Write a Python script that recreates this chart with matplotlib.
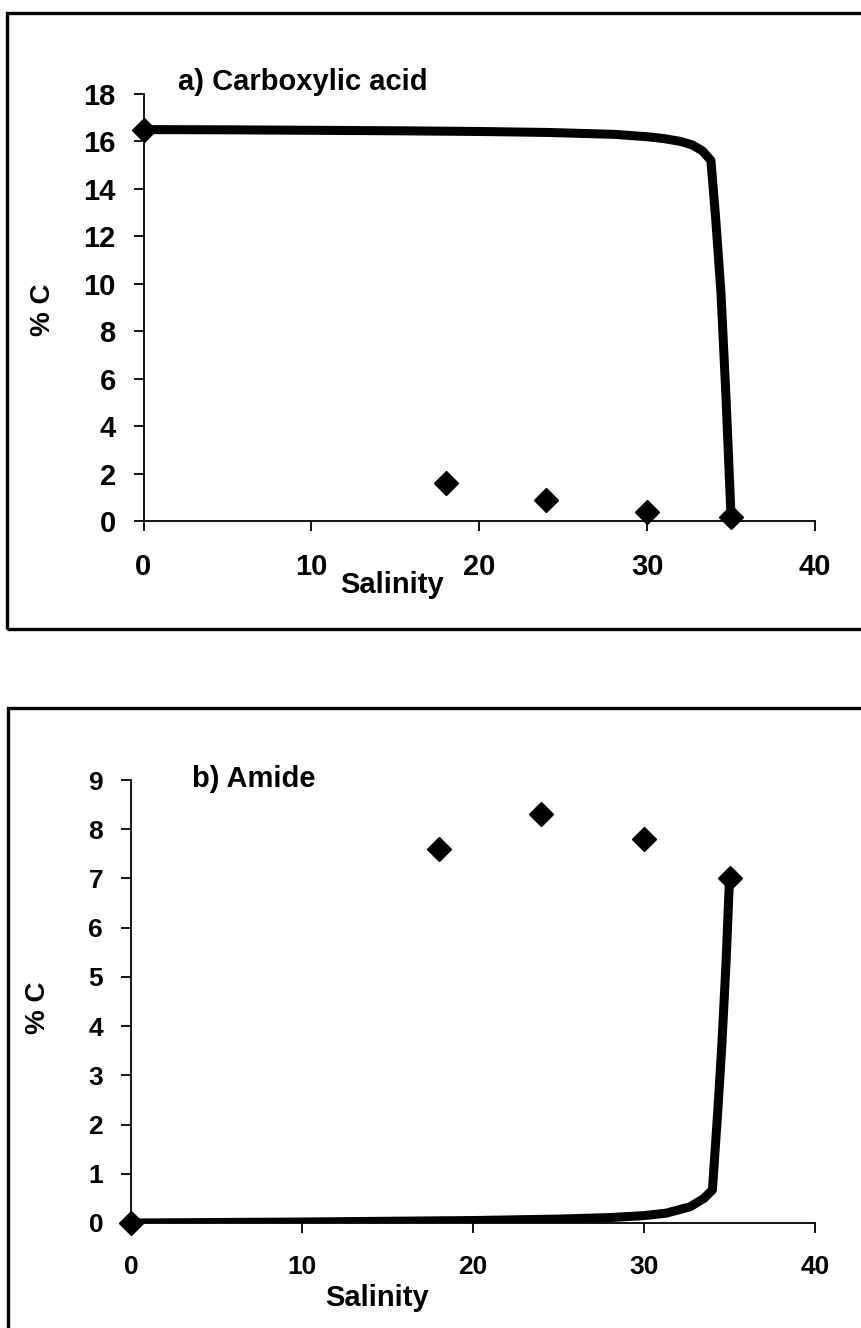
import matplotlib
matplotlib.use("Agg")
import matplotlib.pyplot as plt
from matplotlib.patches import Rectangle

plt.rcParams['font.family'] = ['Liberation Sans', 'DejaVu Sans']
plt.rcParams['font.weight'] = 'bold'

# ---------------- data ----------------
# Panel a: Carboxylic acid
a_obs_salinity = [0, 18, 24, 30, 35]
a_obs_pctC = [16.5, 1.6, 0.9, 0.4, 0.15]
a_line_salinity = [0, 5, 10, 15, 20, 24, 28, 30, 31, 32, 32.7, 33.3, 33.8, 34.1, 34.4, 34.7, 35]
a_line_pctC = [16.5, 16.49, 16.47, 16.45, 16.42, 16.38, 16.3, 16.2, 16.12, 16.0, 15.85, 15.6, 15.2, 12.6, 9.6, 5.2, 0.15]

# Panel b: Amide
b_obs_salinity = [0, 18, 24, 30, 35]
b_obs_pctC = [0.0, 7.6, 8.3, 7.8, 7.0]
b_line_salinity = [0, 10, 20, 25, 28, 30, 31.3, 32.7, 33.5, 34.0, 34.3, 34.55, 34.8, 35]
b_line_pctC = [0.0, 0.02, 0.05, 0.08, 0.11, 0.15, 0.2, 0.33, 0.5, 0.67, 2.2, 3.6, 5.3, 7.0]

a_yticks = [0, 2, 4, 6, 8, 10, 12, 14, 16, 18]
b_yticks = [0, 1, 2, 3, 4, 5, 6, 7, 8, 9]
xticks = [0, 10, 20, 30, 40]

W, H = 861, 1328
fig = plt.figure(figsize=(W / 100, H / 100), dpi=100)
fig.patch.set_facecolor('white')


def fx(px):
    return px / W


def fy(py):
    return 1 - py / H


# outer frames
fig.patches.append(Rectangle((fx(7), fy(629)), fx(880), (629 - 13) / H,
                             transform=fig.transFigure, fill=False,
                             edgecolor='black', linewidth=2.4))
fig.patches.append(Rectangle((fx(8), -0.02), fx(880), 1 - 708 / H + 0.02,
                             transform=fig.transFigure, fill=False,
                             edgecolor='black', linewidth=2.4))


def style(ax, ylim, yticks, tick_fs_y, tick_fs_x, ypad, xpad, ticklen):
    ax.set_xlim(0, 40)
    ax.set_ylim(*ylim)
    ax.set_xticks(xticks)
    ax.set_yticks(yticks)
    for s in ['top', 'right']:
        ax.spines[s].set_visible(False)
    for s in ['left', 'bottom']:
        ax.spines[s].set_linewidth(1.3)
    ax.tick_params(axis='y', direction='out', length=ticklen, width=1.3,
                   labelsize=tick_fs_y, pad=ypad)
    ax.tick_params(axis='x', direction='out', length=ticklen, width=1.3,
                   labelsize=tick_fs_x, pad=xpad)
    for lab in ax.get_xticklabels() + ax.get_yticklabels():
        lab.set_fontweight('bold')
    ax.set_facecolor('none')


# ---------------- panel a ----------------
ax1 = fig.add_axes([fx(143.5), fy(521), (815 - 143.5) / W, (521 - 94) / H])
ax1.plot(a_line_salinity, a_line_pctC, color='black', linewidth=6.5,
         solid_capstyle='round', solid_joinstyle='round', zorder=2)
ax1.plot(a_obs_salinity, a_obs_pctC, linestyle='none', marker='D', markersize=12,
         color='black', zorder=3, clip_on=False)
style(ax1, (0, 18), a_yticks, 21, 21, 13, 16, 7)
ax1.set_xlabel('Salinity', fontsize=21, fontweight='bold')
ax1.xaxis.set_label_coords(0.370, -0.150)
ax1.xaxis.label.set_verticalalignment('center')
ax1.set_ylabel('% C', fontsize=20, fontweight='bold')
ax1.yaxis.set_label_coords(-0.150, 0.494)
ax1.yaxis.label.set_verticalalignment('center')
fig.text(fx(178), fy(90), 'a) Carboxylic acid', fontsize=21, fontweight='bold',
         ha='left', va='baseline')

# ---------------- panel b ----------------
ax2 = fig.add_axes([fx(131), fy(1223), (815 - 131) / W, (1223 - 780) / H])
ax2.plot(b_line_salinity, b_line_pctC, color='black', linewidth=6.5,
         solid_capstyle='round', solid_joinstyle='round', zorder=2)
ax2.plot(b_obs_salinity, b_obs_pctC, linestyle='none', marker='D', markersize=12,
         color='black', zorder=3, clip_on=False)
style(ax2, (0, 9), b_yticks, 19, 19, 13, 16, 7)
ax2.set_xlabel('Salinity', fontsize=21, fontweight='bold')
ax2.xaxis.set_label_coords(0.360, -0.169)
ax2.xaxis.label.set_verticalalignment('center')
ax2.set_ylabel('% C', fontsize=20, fontweight='bold')
ax2.yaxis.set_label_coords(-0.136, 0.485)
ax2.yaxis.label.set_verticalalignment('center')
fig.text(fx(192), fy(787), 'b) Amide', fontsize=21, fontweight='bold',
         ha='left', va='baseline')

fig.savefig('out.png', dpi=100, facecolor='white')
